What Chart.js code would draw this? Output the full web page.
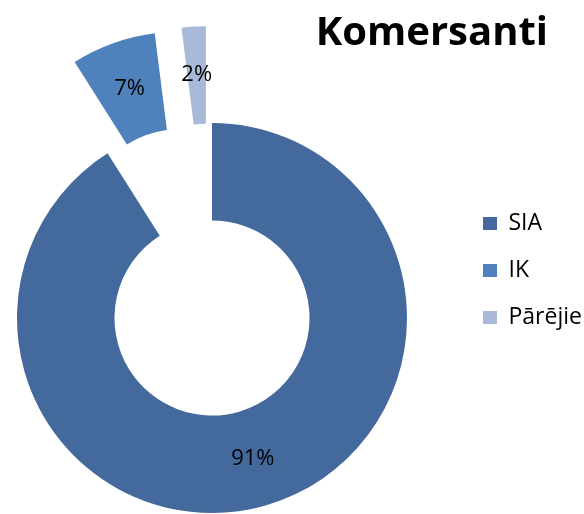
<!DOCTYPE html>
<html>
<head>
<meta charset="utf-8">
<script src="https://cdn.jsdelivr.net/npm/chart.js@4.4.1/dist/chart.umd.min.js"></script>
<style>
  html, body { margin: 0; padding: 0; background: #ffffff; }
  #wrap { position: relative; width: 584px; height: 514px; }
</style>
</head>
<body>
<div id="wrap"><canvas id="c" width="584" height="514"></canvas></div>
<script>
// ---- data ----
const chartTitle = 'Komersanti';
const categories = ['SIA', 'IK', 'Pārējie'];
const shares = [91, 7, 2];
const sliceColors = ['#44699D', '#4F81BD', '#A9B9D9'];
const explodeDist = [0, 97, 97];

// draw slices pulled out along their bisector (Excel-style explosion)
const explodePlugin = {
  id: 'explodeSlices',
  beforeDatasetDraw(chart, args) {
    const ctx = chart.ctx;
    const meta = args.meta;
    const ex = chart.data.datasets[args.index].explode || [];
    meta.data.forEach((arc, i) => {
      const d = ex[i] || 0;
      const mid = (arc.startAngle + arc.endAngle) / 2;
      ctx.save();
      ctx.translate(Math.cos(mid) * d, Math.sin(mid) * d);
      arc.draw(ctx);
      ctx.restore();
    });
    return false;
  }
};

// percentage labels inside the slices
const sliceLabelPlugin = {
  id: 'sliceLabels',
  afterDatasetsDraw(chart) {
    const ctx = chart.ctx;
    const ds = chart.data.datasets[0];
    const meta = chart.getDatasetMeta(0);
    const total = ds.data.reduce((a, b) => a + b, 0);
    const ex = ds.explode || [];
    ctx.save();
    ctx.font = '22px "Open Sans"';
    ctx.fillStyle = '#000000';
    ctx.textAlign = 'center';
    ctx.textBaseline = 'middle';
    meta.data.forEach((arc, i) => {
      const p = arc.getCenterPoint();
      const mid = (arc.startAngle + arc.endAngle) / 2;
      const d = ex[i] || 0;
      const txt = Math.round(ds.data[i] / total * 100) + '%';
      ctx.fillText(txt, p.x + Math.cos(mid) * d, p.y + Math.sin(mid) * d);
    });
    ctx.restore();
  }
};

// title at the top right
const titlePlugin = {
  id: 'cornerTitle',
  afterDraw(chart) {
    const ctx = chart.ctx;
    ctx.save();
    ctx.font = 'bold 40px "Open Sans"';
    ctx.fillStyle = '#000000';
    ctx.textAlign = 'right';
    ctx.textBaseline = 'alphabetic';
    ctx.fillText(chartTitle, 548, 45);
    ctx.restore();
  }
};

// keep a gap between the ring and the legend column like the original
const legendShift = {
  id: 'legendShift',
  afterLayout(chart) {
    const lg = chart.legend;
    if (lg) { lg.left += 35; lg.right += 35; }
  }
};

new Chart(document.getElementById('c'), {
  type: 'doughnut',
  data: {
    labels: categories,
    datasets: [{
      data: shares,
      backgroundColor: sliceColors,
      borderWidth: 0,
      explode: explodeDist,
      clip: false
    }]
  },
  options: {
    responsive: false,
    animation: false,
    events: [],
    radius: 195,
    cutout: '50%',
    layout: { padding: { left: 0, right: 35, top: 188, bottom: 66 } },
    plugins: {
      tooltip: { enabled: false },
      title: { display: false },
      legend: {
        position: 'right',
        align: 'start',
        maxWidth: 125,
        labels: {
          boxWidth: 14,
          boxHeight: 13,
          padding: 24,
          color: '#000000',
          font: { family: 'Open Sans', size: 23 }
        }
      }
    }
  },
  plugins: [explodePlugin, sliceLabelPlugin, titlePlugin, legendShift]
});
</script>
</body>
</html>
